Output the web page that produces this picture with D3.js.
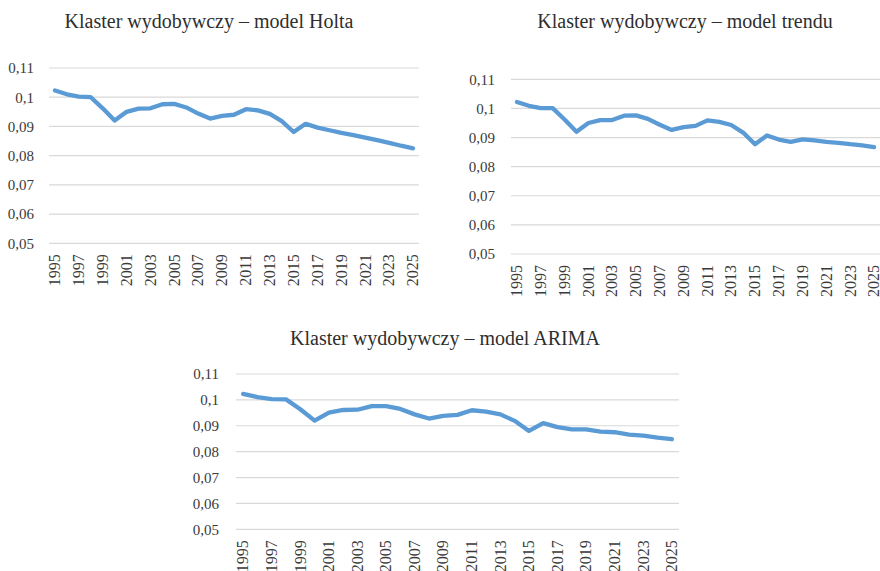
<!DOCTYPE html>
<html>
<head>
<meta charset="utf-8">
<script src="https://cdn.jsdelivr.net/npm/d3@7"></script>
<style>
  html, body { margin: 0; padding: 0; background: #fff; }
  svg { display: block; }
  text { font-family: "Liberation Serif", "Times New Roman", serif; fill: #3a3a3a; }
</style>
</head>
<body>
<svg id="chart" width="880" height="571"></svg>
<script>
// Years covered by the observed series and the forecast horizon
const years = d3.range(1995, 2026);

// Value axis ticks
const yTicks = [0.05, 0.06, 0.07, 0.08, 0.09, 0.10, 0.11];

// Share of the mining cluster – Holt model
const holtValues = [
  0.1023, 0.1010, 0.1002, 0.1000, 0.0962, 0.0920, 0.0950, 0.0961, 0.0962, 0.0976,
  0.0977, 0.0965, 0.0944, 0.0927, 0.0936, 0.0940, 0.0959, 0.0955, 0.0943, 0.0918,
  0.0881, 0.0909, 0.0896, 0.0887, 0.0878, 0.0870, 0.0862, 0.0853, 0.0844, 0.0834,
  0.0825
];

// Share of the mining cluster – trend model
const trendValues = [
  0.1022, 0.1009, 0.1001, 0.1001, 0.0962, 0.0920, 0.0950, 0.0960, 0.0960, 0.0975,
  0.0976, 0.0964, 0.0944, 0.0926, 0.0936, 0.0940, 0.0959, 0.0954, 0.0943, 0.0917,
  0.0877, 0.0907, 0.0893, 0.0885, 0.0894, 0.0890, 0.0885, 0.0882, 0.0877, 0.0873,
  0.0867
];

// Share of the mining cluster – ARIMA model
const arimaValues = [
  0.1023, 0.1011, 0.1003, 0.1002, 0.0964, 0.0920, 0.0951, 0.0961, 0.0962, 0.0976,
  0.0976, 0.0965, 0.0944, 0.0928, 0.0938, 0.0942, 0.0960, 0.0955, 0.0944, 0.0919,
  0.0880, 0.0910, 0.0895, 0.0886, 0.0886, 0.0877, 0.0875, 0.0866, 0.0862, 0.0854,
  0.0848
];

const titles = [
  "Klaster wydobywczy – model Holta",
  "Klaster wydobywczy – model trendu",
  "Klaster wydobywczy – model ARIMA"
];

// Panel placement on the page
const panels = [
  { title: titles[0], values: holtValues,  x0: 49,  x1: 419, yTop: 68,    yBot: 243.3, labelRight: 34,  titleX: 209, titleY: 28 },
  { title: titles[1], values: trendValues, x0: 511, x1: 880, yTop: 79.3,  yBot: 254,   labelRight: 495, titleX: 685, titleY: 28 },
  { title: titles[2], values: arimaValues, x0: 236, x1: 679, yTop: 374,   yBot: 529.3, labelRight: 219, titleX: 445, titleY: 345 }
];

const fmt = v => String(+v.toFixed(2)).replace(".", ",");

const svg = d3.select("#chart");

panels.forEach(p => {
  const g = svg.append("g");

  const x = d3.scaleBand().domain(years).range([p.x0, p.x1]);
  const y = d3.scaleLinear().domain([0.05, 0.11]).range([p.yBot, p.yTop]);

  // Title
  g.append("text")
    .attr("x", p.titleX)
    .attr("y", p.titleY)
    .attr("text-anchor", "middle")
    .style("font-size", "20px")
    .style("fill", "#2e2e2e")
    .text(p.title);

  // Horizontal gridlines
  g.append("g")
    .selectAll("line")
    .data(yTicks)
    .join("line")
    .attr("x1", p.x0)
    .attr("x2", p.x1)
    .attr("y1", d => y(d))
    .attr("y2", d => y(d))
    .attr("stroke", "#d9d9d9")
    .attr("stroke-width", 1.2);

  // Value axis labels
  const yAxis = d3.axisLeft(y).tickValues(yTicks).tickFormat(fmt).tickSize(0).tickPadding(0);
  g.append("g")
    .attr("transform", `translate(${p.labelRight},0)`)
    .call(yAxis)
    .call(a => a.select(".domain").remove())
    .call(a => a.selectAll("text")
      .style("font-family", "Liberation Serif, serif")
      .style("font-size", "15px")
      .style("fill", "#3a3a3a"));

  // Year axis labels, every other year, rotated
  const xAxis = d3.axisBottom(x).tickValues(years.filter((d, i) => i % 2 === 0)).tickSize(0);
  g.append("g")
    .attr("transform", `translate(0,${p.yBot})`)
    .call(xAxis)
    .call(a => a.select(".domain").remove())
    .call(a => a.selectAll("text")
      .attr("transform", "rotate(-90)")
      .attr("text-anchor", "end")
      .attr("x", -11)
      .attr("y", 0)
      .attr("dy", "0.33em")
      .style("font-family", "Liberation Serif, serif")
      .style("font-size", "16px")
      .style("fill", "#3a3a3a"));

  // Series line
  const line = d3.line()
    .x((d, i) => x(years[i]) + x.bandwidth() / 2)
    .y(d => y(d));

  g.append("path")
    .datum(p.values)
    .attr("d", line)
    .attr("fill", "none")
    .attr("stroke", "#5b9bd5")
    .attr("stroke-width", 4.3)
    .attr("stroke-linejoin", "round")
    .attr("stroke-linecap", "round");
});
</script>
</body>
</html>
